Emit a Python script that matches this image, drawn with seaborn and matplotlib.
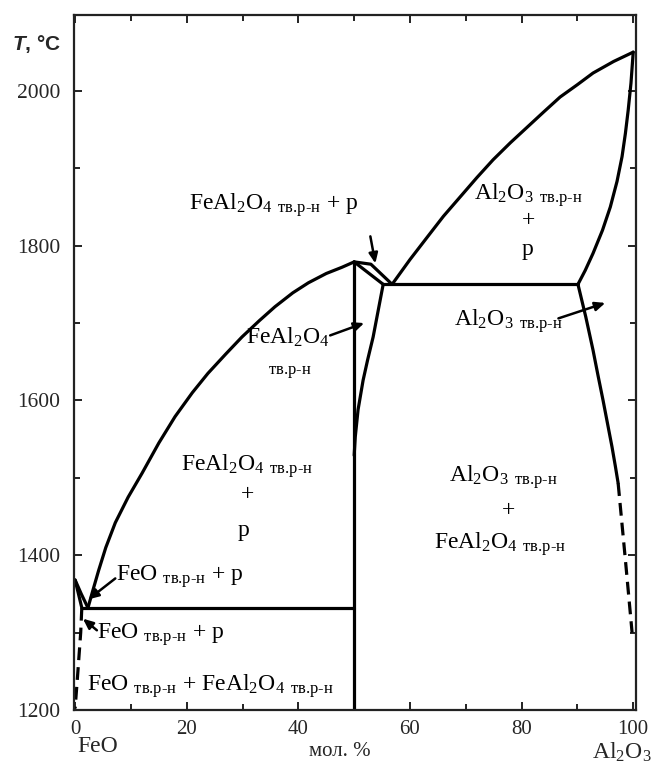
import matplotlib
matplotlib.use("Agg")
import matplotlib.pyplot as plt
import seaborn as sns

# ---------------- data (mol. % Al2O3, T in °C) ----------------
feo_liq_x = [0.0, 1.1, 2.3]
feo_liq_t = [1368, 1350, 1332]
feo_sol_x = [0.0, 0.6, 1.2]
feo_sol_t = [1368, 1350, 1332]
feo_solvus_x = [1.2, 1.0, 0.5, 0.0]
feo_solvus_t = [1332, 1300, 1250, 1202]

herc_liq_x = [2.3, 3.2, 4.2, 5.5, 7.2, 9.5, 12.0, 15.0, 17.9, 21.0, 23.8,
              27.0, 29.9, 33.0, 35.8, 39.0, 41.8, 45.0, 47.8, 50.0]
herc_liq_t = [1332, 1355, 1380, 1410, 1442, 1475, 1506, 1545, 1579, 1610,
              1635, 1660, 1682, 1703, 1721, 1739, 1752, 1764, 1772, 1779]

eut1_x = [1.2, 50.0]
eut1_t = [1332, 1332]
herc_line_x = [50.0, 50.0]
herc_line_t = [1200, 1779]

lens_up_x = [50.0, 53.0, 56.8]
lens_up_t = [1779, 1776, 1750]
lens_lo_x = [50.0, 55.2]
lens_lo_t = [1779, 1750]

herc_solvus_x = [55.2, 54.3, 53.4, 52.4, 51.6, 50.7, 50.2, 50.0]
herc_solvus_t = [1750, 1716, 1682, 1652, 1626, 1588, 1553, 1529]

eut2_x = [55.2, 90.1]
eut2_t = [1750, 1750]

al_liq_x = [56.8, 60.0, 63.1, 66.0, 69.0, 72.0, 74.9, 78.0, 81.0, 84.0,
            86.9, 90.0, 92.8, 96.5, 100.0]
al_liq_t = [1750, 1782, 1811, 1838, 1863, 1888, 1911, 1933, 1953, 1973,
            1992, 2008, 2023, 2038, 2050]
al_sol_x = [100.0, 99.6, 99.1, 98.6, 98.0, 97.1, 95.9, 94.5, 92.8, 91.4, 90.1]
al_sol_t = [2050, 2010, 1975, 1945, 1915, 1883, 1850, 1820, 1790, 1768, 1750]
al_solvus_x = [90.1, 91.5, 92.8, 93.7, 94.6, 95.4, 96.2, 96.8, 97.3]
al_solvus_t = [1750, 1708, 1665, 1632, 1600, 1570, 1540, 1515, 1493]
al_solvus_d_x = [97.3, 98.6, 99.8]
al_solvus_d_t = [1493, 1394, 1300]

x_ticks = [0, 20, 40, 60, 80, 100]
y_ticks = [1200, 1400, 1600, 1800, 2000]

SUB = r"$_{\text{тв.р-н}}$"
FEAL = r"FeAl$_2$O$_4$"
AL = r"Al$_2$O$_3$"

# ---------------- style ----------------
sns.set_theme(style="ticks")
plt.rcParams['font.family'] = ['Liberation Serif', 'DejaVu Serif']
plt.rcParams['mathtext.fontset'] = 'custom'
plt.rcParams['mathtext.rm'] = 'Liberation Serif'
plt.rcParams['mathtext.it'] = 'Liberation Sans:italic:bold'
plt.rcParams['mathtext.bf'] = 'Liberation Serif:bold'

W, H = 651, 774
fig = plt.figure(figsize=(W / 100, H / 100), dpi=100)
ax = fig.add_axes([74 / W, 1 - 710 / H, (636 - 74) / W, (710 - 15) / H])

LW = 2.3
solid_sets = [
    (feo_liq_x, feo_liq_t), (feo_sol_x, feo_sol_t), (herc_liq_x, herc_liq_t),
    (eut1_x, eut1_t), (herc_line_x, herc_line_t), (lens_up_x, lens_up_t),
    (lens_lo_x, lens_lo_t), (herc_solvus_x, herc_solvus_t), (eut2_x, eut2_t),
    (al_liq_x, al_liq_t), (al_sol_x, al_sol_t), (al_solvus_x, al_solvus_t),
]
for xs, ts in solid_sets:
    sns.lineplot(x=xs, y=ts, sort=False, estimator=None, color="black",
                 linewidth=LW, ax=ax)
for xs, ts in [(feo_solvus_x, feo_solvus_t), (al_solvus_d_x, al_solvus_d_t)]:
    sns.lineplot(x=xs, y=ts, sort=False, estimator=None, color="black",
                 linewidth=LW, linestyle=(0, (4, 2.2)), ax=ax)

ax.set_xlim(-0.2, 100.5)
ax.set_ylim(1200, 2098)
ax.set_xticks(x_ticks)
ax.set_xticks(range(10, 100, 20), minor=True)
ax.set_yticks(y_ticks)
ax.set_yticks(range(1300, 2100, 200), minor=True)
ax.set_xticklabels([str(v) for v in x_ticks])
ax.set_yticklabels([str(v) for v in y_ticks])
ax.set_xlabel("")
ax.set_ylabel("")
for s in ax.spines.values():
    s.set_linewidth(1.6)
    s.set_color("#222222")
ax.tick_params(which="both", direction="in", top=True, right=True,
               color="#222222", width=1.4)
ax.tick_params(which="major", length=6)
ax.tick_params(which="minor", length=4)
ax.tick_params(axis="x", labelsize=15, pad=7)
ax.tick_params(axis="y", labelsize=15.5, pad=10)

FS = 17
def t(x, y, s, **kw):
    ax.text(x, y, s, fontsize=kw.pop("fs", FS), ha=kw.pop("ha", "left"),
            va=kw.pop("va", "center"), color="black", **kw)

t(20.4, 1852, FEAL + " " + SUB + " + р")
t(71.5, 1865, AL + " " + SUB)
t(81.2, 1833, "+", ha="center")
t(81.0, 1795, "р", ha="center")
t(30.6, 1682, FEAL)
t(38.5, 1639, r"$_{\text{тв.р-н}}$", ha="center")
t(67.9, 1701, AL + " " + SUB)
t(19.0, 1514, FEAL + " " + SUB)
t(30.8, 1478, "+", ha="center")
t(30.1, 1432, "р", ha="center")
t(7.4, 1372, "FeO " + SUB + " + р")
t(67.0, 1500, AL + " " + SUB)
t(77.6, 1458, "+", ha="center")
t(64.3, 1413, FEAL + " " + SUB)
t(4.0, 1297, "FeO " + SUB + " + р")
t(2.1, 1230, "FeO " + SUB + " + " + FEAL + " " + SUB)

arr = dict(arrowstyle="-|>,head_length=0.5,head_width=0.22", color="black",
           lw=1.8, shrinkA=0, shrinkB=0)
ax.annotate("", xy=(53.8, 1777), xytext=(52.9, 1812), arrowprops=arr)
ax.annotate("", xy=(51.8, 1700), xytext=(45.7, 1684), arrowprops=arr)
ax.annotate("", xy=(95.0, 1726), xytext=(86.6, 1706), arrowprops=arr)
ax.annotate("", xy=(2.4, 1343), xytext=(7.2, 1370), arrowprops=arr)
ax.annotate("", xy=(1.4, 1318), xytext=(3.9, 1303), arrowprops=arr)

# outer labels
fig.text(12 / W, 1 - 44 / H, r"$\mathit{T}$, °C", fontsize=15,
         fontweight="bold", family="Liberation Sans", va="center")
fig.text(77 / W, 1 - 746 / H, "FeO", fontsize=17, va="center")
fig.text(340 / W, 1 - 752 / H, "мол. %", fontsize=15, va="center", ha="center")
fig.text(592 / W, 1 - 752 / H, AL, fontsize=17, va="center")

fig.savefig("out.png", dpi=100)
